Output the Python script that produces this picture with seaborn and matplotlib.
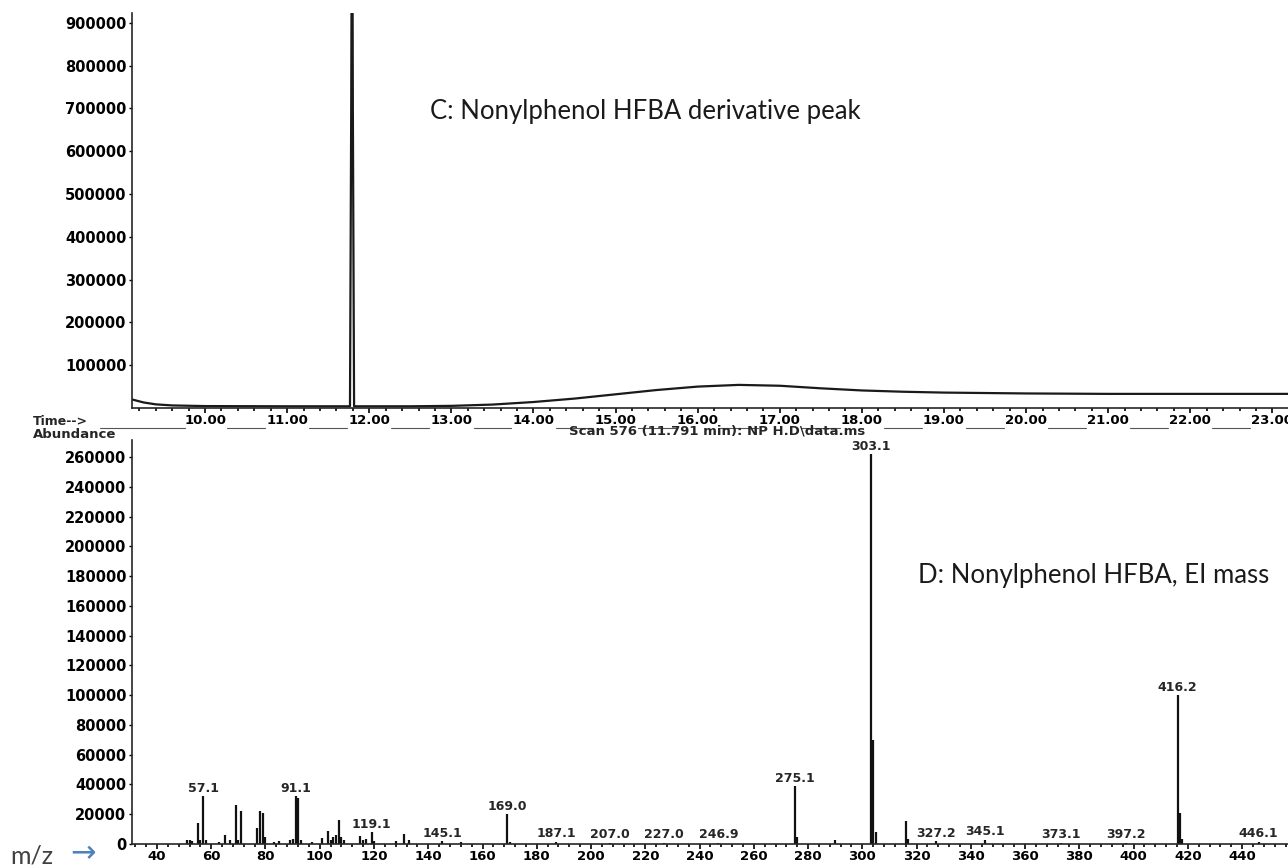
import numpy as np
import pandas as pd
import seaborn as sns
import matplotlib.pyplot as plt
from matplotlib import transforms
from matplotlib.ticker import MultipleLocator, FixedLocator, FormatStrFormatter

# total ion chromatogram, retention time (min) vs abundance
tic_time = [9.11, 9.25, 9.40, 9.60, 10.0, 11.0, 11.765, 11.78, 11.791, 11.80, 11.815,
            12.5, 13.0, 13.5, 14.0, 14.5, 15.0, 15.5, 16.0, 16.5, 17.0, 17.5,
            18.0, 18.5, 19.0, 20.0, 21.0, 22.0, 23.19]
tic_abundance = [20000, 13000, 8500, 6000, 4500, 4000, 4000, 700000, 1400000, 700000, 4000,
                 4000, 5000, 8000, 14000, 22000, 32000, 42000, 50000, 54000, 52000, 46000,
                 41000, 38000, 36000, 34000, 33000, 33000, 33000]

# EI mass spectrum of the peak at 11.791 min
ms_mz = [51, 52, 53, 55, 56, 57.1, 58, 63, 65, 67, 69, 70, 71, 77, 78, 79, 80, 83, 85,
         89, 90, 91.1, 92, 93, 97, 101, 103, 104, 105, 106, 107, 108, 109, 115, 116,
         117, 119.1, 120, 128, 131, 133, 145.1, 152, 169.0, 170, 187.1, 207.0, 227.0,
         246.9, 275.1, 276, 290, 303.1, 304.1, 305, 316, 317, 327.2, 345.1, 373.1,
         397.2, 416.2, 417.2, 418, 446.1]
ms_abundance = [2500, 3000, 2000, 14000, 3000, 32000, 2500, 1500, 6000, 2500, 26000, 2500,
                22500, 10500, 22000, 21000, 4500, 1500, 2000, 2500, 3500, 32000, 31000,
                3000, 1500, 4000, 8500, 3000, 5000, 6000, 16000, 5000, 2500, 5500, 2500,
                3500, 8000, 2000, 2000, 7000, 2500, 2000, 1500, 20000, 1500, 1500, 1000,
                1000, 1000, 39000, 4500, 3000, 262000, 70000, 8000, 15500, 3500, 2000,
                3000, 800, 800, 100000, 21000, 3500, 1500]
labelled_mz = [57.1, 91.1, 119.1, 145.1, 169.0, 187.1, 207.0, 227.0, 246.9, 275.1,
               303.1, 327.2, 345.1, 373.1, 397.2, 416.2, 446.1]

time_ticks = list(range(10, 24))
mz_ticks = list(range(40, 460, 20))
tic_yticks = list(range(100000, 1000000, 100000))
ms_yticks = list(range(0, 280000, 20000))


def px(x, y):
    # reference pixel -> figure fraction
    return x / 1288, 1 - y / 867


if __name__ == "__main__":
    sns.set_theme(style="ticks")
    plt.rcParams['font.family'] = ['DejaVu Sans']
    plt.rcParams['font.weight'] = 'bold'
    plt.rcParams['axes.linewidth'] = 1.2

    fig = plt.figure(figsize=(12.88, 8.67), dpi=100)
    ax1 = fig.add_axes([132 / 1288, 1 - 408 / 867, 1 - 132 / 1288, 395 / 867])
    ax2 = fig.add_axes([132 / 1288, 1 - 844 / 867, 1 - 132 / 1288, 404 / 867])

    df_tic = pd.DataFrame({"time": tic_time, "abundance": tic_abundance})
    sns.lineplot(data=df_tic, x="time", y="abundance", ax=ax1, color="#1a1a1a",
                 linewidth=1.6)
    ax1.set_xlim(9.11, 23.19)
    ax1.set_ylim(0, 923000)
    ax1.xaxis.set_major_locator(FixedLocator(time_ticks))
    ax1.xaxis.set_major_formatter(FormatStrFormatter("%.2f"))
    ax1.xaxis.set_minor_locator(MultipleLocator(0.2))
    ax1.set_yticks(tic_yticks)

    df_ms = pd.DataFrame({"mz": ms_mz, "abundance": ms_abundance})
    ax2.vlines(df_ms["mz"], 0, df_ms["abundance"], color="#111111", linewidth=1.6)
    for mz in labelled_mz:
        h = ms_abundance[ms_mz.index(mz)]
        ax2.annotate(f"{mz:.1f}", (mz, h), xytext=(0, 1.0), textcoords="offset points",
                     ha="center", va="bottom", fontsize=9, fontweight="bold",
                     annotation_clip=False)
    ax2.set_xlim(30.8, 456.9)
    ax2.set_ylim(0, 271400)
    ax2.set_xticks(mz_ticks)
    ax2.xaxis.set_minor_locator(MultipleLocator(4))
    ax2.set_yticks(ms_yticks)

    for ax in (ax1, ax2):
        sns.despine(ax=ax)
        ax.set_xlabel("")
        ax.set_ylabel("")
        ax.ticklabel_format(axis="y", style="plain")
        ax.tick_params(axis="x", which="major", direction="out", length=3.6, width=1.2,
                       pad=0.5, labelsize=9.5, colors="black")
        ax.tick_params(axis="x", which="minor", direction="out", length=2.2, width=1.2,
                       colors="black")
        ax.tick_params(axis="y", which="major", direction="out", length=2, width=1.0,
                       pad=2, labelsize=10.5, colors="black")
        ax.patch.set_alpha(0)

    # underscore rule between time labels
    trans = transforms.blended_transform_factory(ax1.transData, ax1.transAxes)
    y_rule = -20 / 395
    ax1.plot([8.72, 9.75], [y_rule, y_rule], transform=trans, clip_on=False,
             color="#555555", lw=0.8)
    for t in time_ticks[:-1]:
        ax1.plot([t + 0.27, t + 0.73], [y_rule, y_rule], transform=trans,
                 clip_on=False, color="#555555", lw=0.8)

    fig.text(*px(33, 421), "Time-->", fontsize=9, fontweight="bold", va="center")
    fig.text(*px(33, 434), "Abundance", fontsize=9.5, fontweight="bold", va="center")
    fig.text(*px(717, 431), r"Scan 576 (11.791 min): NP H.D\data.ms", fontsize=9.5,
             fontweight="bold", ha="center", va="center")

    fig.text(*px(430, 112), "C: Nonylphenol HFBA derivative peak", fontsize=18.5,
             family=["Lato", "DejaVu Sans"], fontweight="normal", va="center",
             color="#1a1a1a")
    fig.text(*px(918, 575), "D: Nonylphenol HFBA, EI mass", fontsize=18.5,
             family=["Lato", "DejaVu Sans"], fontweight="normal", va="center",
             color="#1a1a1a")
    fig.text(*px(10, 856), "m/z", fontsize=18, family=["Lato", "DejaVu Sans"],
             fontweight="normal", va="center", color="#404040")
    fig.text(*px(70, 854), "\u2192", fontsize=22, family=["DejaVu Sans"],
             fontweight="normal", va="center", color="#4f81bd")

    plt.savefig("out.png", dpi=100)
    plt.close()
